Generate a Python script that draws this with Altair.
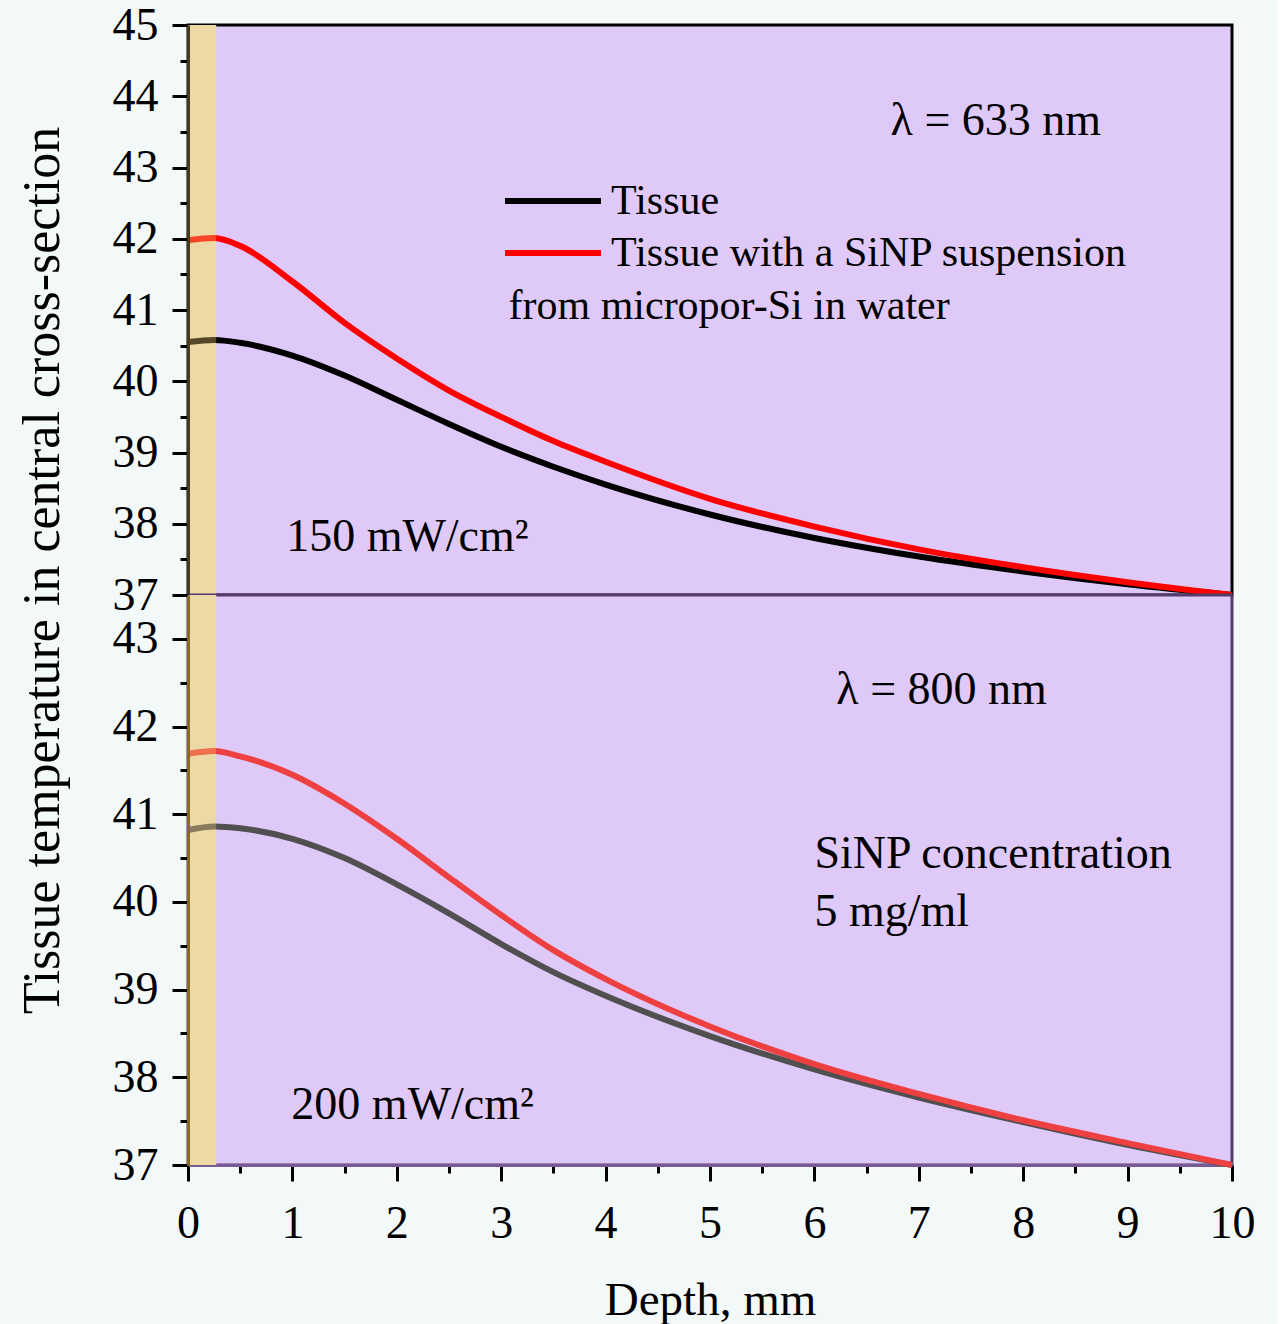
import altair as alt
import pandas as pd

# ---------------- data ----------------
depth = [0, 0.25, 0.5, 1, 1.5, 2, 2.5, 3, 3.5, 4, 5, 6, 7, 8, 9, 10]
t633_tissue = [40.55, 40.58, 40.54, 40.36, 40.08, 39.74, 39.40, 39.08, 38.80, 38.55, 38.13, 37.80, 37.54, 37.33, 37.15, 37.00]
t633_sinp = [41.98, 42.01, 41.90, 41.40, 40.82, 40.32, 39.87, 39.50, 39.16, 38.87, 38.35, 37.96, 37.64, 37.39, 37.18, 37.00]
t800_tissue = [40.82, 40.86, 40.84, 40.72, 40.50, 40.20, 39.87, 39.52, 39.20, 38.93, 38.47, 38.09, 37.77, 37.49, 37.23, 37.00]
t800_sinp = [41.69, 41.72, 41.66, 41.45, 41.12, 40.72, 40.28, 39.85, 39.45, 39.12, 38.58, 38.15, 37.81, 37.51, 37.25, 37.00]
series_names = ["Tissue", "Tissue with a SiNP suspension"]
band_range = [0, 0.27]
x_ticks = [i * 0.5 for i in range(0, 21)]
y_ticks_633 = [37 + i * 0.5 for i in range(0, 17)]
y_ticks_800 = [37 + i * 0.5 for i in range(0, 14)]

FONT = "Liberation Serif"
LAV = "#dfc9f9"
BG = "#f3f8f8"


def long_df(a, b):
    rows = []
    for d, v in zip(depth, a):
        rows.append({"depth": d, "temp": v, "series": series_names[0]})
    for d, v in zip(depth, b):
        rows.append({"depth": d, "temp": v, "series": series_names[1]})
    return pd.DataFrame(rows)


df633 = long_df(t633_tissue, t633_sinp)
df800 = long_df(t800_tissue, t800_sinp)

W, H = 1044, 570
xscale = alt.Scale(domain=[0, 10], nice=False, zero=False)

minor_size = {"condition": {"test": "datum.value % 1 != 0", "value": 8}, "value": 16}
label_expr = "datum.value % 1 != 0 ? '' : format(datum.value, 'd')"

x_axis_bottom = alt.Axis(
    values=x_ticks, labelExpr=label_expr, tickSize=minor_size, tickWidth=3,
    tickColor="black", domainColor="#7a5a95", domainWidth=3, labelFont=FONT,
    labelFontSize=46, labelColor="black", labelPadding=20, labelFlush=False,
    labelOverlap=False, grid=False, title="Depth, mm", titleFont=FONT,
    titleFontSize=47, titleFontWeight="normal", titleColor="black",
    titleY=135, titleBaseline="middle",
)


def y_axis(vals, title, dom_color):
    kw = dict(
        values=vals, labelExpr=label_expr, tickSize=minor_size, tickWidth=3,
        tickColor="black", domainColor=dom_color, domainWidth=3, labelFont=FONT,
        labelFontSize=46, labelColor="black", labelPadding=14, labelFlush=False,
        labelOverlap=False, grid=False, zindex=1,
    )
    if title:
        kw.update(title=title, titleFont=FONT, titleFontSize=52,
                  titleFontWeight="normal", titleColor="black", titleX=-146,
                  titleY=545, titleAlign="center", titleBaseline="middle",
                  titleAngle=270)
    else:
        kw.update(title=None)
    return alt.Axis(**kw)


def panel(df, ydom, yaxis, xaxis, colors, legend, texts, frame):
    yscale = alt.Scale(domain=ydom, nice=False, zero=False)
    band_df = pd.DataFrame({"a": [band_range[0]], "b": [band_range[1]]})
    base_band = alt.Chart(band_df).mark_rect(color="#ebe2c3", opacity=1).encode(
        x=alt.X("a:Q", scale=xscale, axis=xaxis),
        x2="b:Q",
        y=alt.value(0), y2=alt.value(H),
    )
    lines = alt.Chart(df).mark_line(strokeWidth=6, interpolate="monotone").encode(
        x=alt.X("depth:Q", scale=xscale, axis=xaxis),
        y=alt.Y("temp:Q", scale=yscale, axis=yaxis),
        color=alt.Color("series:N", scale=alt.Scale(domain=series_names, range=colors), legend=legend),
        detail="series:N",
    )
    over_band = alt.Chart(band_df).mark_rect(color="#f0c86e", opacity=0.35).encode(
        x=alt.X("a:Q", scale=xscale, axis=xaxis),
        x2="b:Q",
        y=alt.value(0), y2=alt.value(H),
    )
    layers = [base_band, lines, over_band]
    for (tx, ty, txt, size) in texts:
        layers.append(
            alt.Chart(pd.DataFrame({"d": [0]})).mark_text(
                text=txt, font=FONT, fontSize=size, align="left", baseline="middle", color="black"
            ).encode(
                x=alt.X(datum=tx, scale=xscale, axis=xaxis),
                y=alt.Y(datum=ty, scale=yscale, axis=yaxis),
            )
        )
    return alt.layer(*layers).properties(
        width=W, height=H,
        view=alt.ViewBackground(fill=LAV, stroke=frame, strokeWidth=3),
    )


# legend key: a long horizontal stroke (custom path, 96 px long at size 576)
legend_top = alt.Legend(
    orient="none", legendX=344, legendY=155, title=None, symbolType="M-4,0H4",
    symbolSize=576, symbolStrokeWidth=6, labelFont=FONT, labelFontSize=42,
    labelColor="black", labelOffset=37, labelLimit=900, rowPadding=10,
)

texts_633 = [
    (6.73, 43.65, "λ = 633 nm", 46),
    (3.07, 41.06, "from micropor-Si in water", 42),
    (0.94, 37.81, "150 mW/cm²", 46),
]
texts_800 = [
    (6.21, 42.42, "λ = 800 nm", 46),
    (6.0, 40.55, "SiNP concentration", 46),
    (6.0, 39.88, "5 mg/ml", 46),
    (0.99, 37.68, "200 mW/cm²", 46),
]

top = panel(df633, [37, 45], y_axis(y_ticks_633, "Tissue temperature in central cross-section", "#4a3a1c"),
            None, ["#000000", "#ff0000"], legend_top, texts_633, "#000000")
bottom = panel(df800, [37, 43.5], y_axis(y_ticks_800, None, "#8a6a22"),
               x_axis_bottom, ["#505050", "#ee4040"], None, texts_800, "#553a70")

chart = alt.vconcat(top, bottom, spacing=0, bounds="flush").resolve_scale(
    x="independent", y="independent", color="independent"
).properties(
    padding={"left": 14, "top": 0, "right": 20, "bottom": 0},
    background=BG,
).configure_view(stroke=None)

chart.save("out.html", embed_options={"renderer": "svg", "actions": False})
